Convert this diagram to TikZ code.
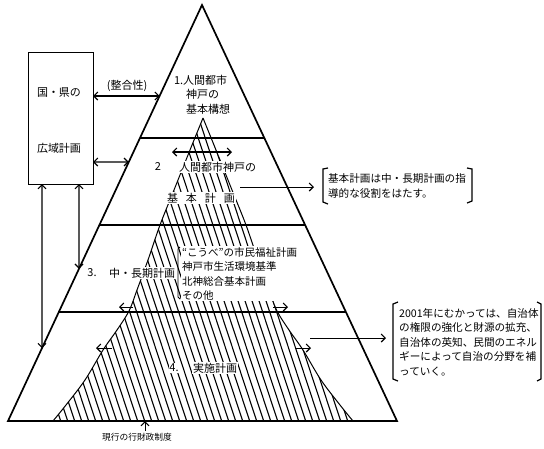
\documentclass[tikz,border=0pt]{standalone}
\usepackage{fontspec}
\newfontfamily\jpfont{Noto Sans CJK JP}
\usetikzlibrary{arrows.meta,calc}
\newcommand\hatchshape{plot[smooth,tension=0.55] coordinates {(53,421) (66,405) (85,380) (103,350) (117,330) (129,311) (137,290) (148,260) (160,225) (174,190) (190,150) (203,118)} -- plot[smooth,tension=0.55] coordinates {(203,118) (216,150) (232,190) (246,225) (258,260) (269,290) (277,311) (289,330) (303,350) (321,380) (340,405) (353,421)} -- cycle}
\begin{document}
\begin{tikzpicture}[x=1pt,y=-1pt,
  mybarb/.tip={Straight Barb[length=4pt,width=8pt,line width=1.1pt]},
  outline/.style={line width=1.7pt,line join=miter},
  bandline/.style={line width=1.4pt},
  hatchline/.style={line width=1.1pt},
  both/.style={line width=1.1pt,{mybarb}-{mybarb}},
  onearrow/.style={line width=1pt,-{mybarb}},
  lbl/.style={font=\jpfont\fontsize{11}{13}\selectfont,inner sep=0.8pt,fill=white},
  boxtxt/.style={font=\jpfont\fontsize{11}{13}\selectfont,inner sep=0pt},
  note/.style={font=\jpfont\fontsize{10.6}{14.5}\selectfont,inner sep=0pt,align=left},
  brk/.style={line width=1.2pt},
]
\useasboundingbox (0,0) rectangle (544,448);
\fill[white] (0,0) rectangle (544,448);

% triangle corners
\coordinate (A) at (202,5);
\coordinate (BL) at (8,421);
\coordinate (BR) at (397,421);

% hatched region
\begin{scope}
  \clip \hatchshape;
  \foreach \hx in {-56,-49,...,360} \draw[hatchline] (\hx,110) -- ++(104,315);
\end{scope}
\draw[line width=1pt] plot[smooth,tension=0.55] coordinates {(53,421) (66,405) (85,380) (103,350) (117,330) (129,311) (137,290) (148,260) (160,225) (174,190) (190,150) (203,118)};
\draw[line width=1pt] plot[smooth,tension=0.55] coordinates {(203,118) (216,150) (232,190) (246,225) (258,260) (269,290) (277,311) (289,330) (303,350) (321,380) (340,405) (353,421)};

% triangle
\draw[outline] (BL) -- (A) -- (BR) -- cycle;

% band lines
\coordinate (L1) at ($(A)!{133/416}!(BL)$);
\coordinate (R1) at ($(A)!{133/416}!(BR)$);
\coordinate (L2) at ($(A)!{220/416}!(BL)$);
\coordinate (R2) at ($(A)!{220/416}!(BR)$);
\coordinate (L3) at ($(A)!{307/416}!(BL)$);
\coordinate (R3) at ($(A)!{307/416}!(BR)$);
\draw[bandline] (L1) -- (R1);
\draw[bandline] (L2) -- (R2);
\draw[bandline] (L3) -- (R3);

% box
\node[draw,line width=1.4pt,minimum width=65pt,minimum height=132pt,inner sep=0pt,anchor=north west] (box) at (28,52) {};
\node[boxtxt] (box1) at (59,93) {国・県の};
\node[boxtxt] (box2) at (59,148) {広域計画};

% connectors box - triangle
\coordinate (b1) at (93,96);
\coordinate (e1) at ($(A)!{91/416}!(BL)$);
\coordinate (b2) at (93,162);
\coordinate (e2) at ($(A)!{157/416}!(BL)$);
\coordinate (b3) at (79,184);
\coordinate (e3) at ($(A)!{123/194}!(BL)$);
\coordinate (b4) at (42,184);
\coordinate (e4) at ($(A)!{160/194}!(BL)$);
\draw[both] (b1) -- (e1);
\draw[both] (b2) -- (e2);
\draw[both] (b3) -- (e3);
\draw[both] (b4) -- (e4);
\node[boxtxt] (seigo) at (127,86) {(整合性)};

% level labels
\node[lbl,anchor=west] (l1a) at (173,80) {1.人間都市};
\node[lbl,anchor=west] (l1b) at (185,94) {神戸の};
\node[lbl,anchor=west] (l1c) at (185,109) {基本構想};

\coordinate (a2l) at (172,152);
\coordinate (a2r) at (232,152);
\draw[both] (a2l) -- (a2r);
\node[lbl] (l2n) at (158,167) {2};
\node[lbl,anchor=west] (l2a) at (178,167) {人間都市神戸の};
\node[lbl] (l2b) at (201,198) {基\hspace{8pt}本\hspace{8pt}計\hspace{8pt}画};

\node[lbl] (l3n) at (92,273) {3.};
\node[lbl,anchor=west] (l3a) at (108,273) {中・長期計画};
\node[note,fill=white,inner sep=1pt,anchor=north west,font=\jpfont\fontsize{10.5}{14.5}\selectfont] (list) at (181,246) {“こうべ”の市民福祉計画\\神戸市生活環境基準\\北神総合基本計画\\その他};
\draw[line width=0.9pt] (180,247) -- (178,249) -- (178,297) -- (180,299);

\node[lbl] (l4n) at (174,368) {4.};
\node[lbl,anchor=west] (l4a) at (192,368) {実施計画};

% outward arrows
\coordinate (o3la) at (133,307); \coordinate (o3lb) at (119,307);
\coordinate (o3ra) at (273,307); \coordinate (o3rb) at (288,307);
\coordinate (o4la) at (112,348); \coordinate (o4lb) at (96,348);
\coordinate (o4ra) at (296,348); \coordinate (o4rb) at (311,348);
\draw[onearrow] (o3la) -- (o3lb);
\draw[onearrow] (o3ra) -- (o3rb);
\draw[onearrow] (o4la) -- (o4lb);
\draw[onearrow] (o4ra) -- (o4rb);

% note 1
\node[note] (n1) at (397,186) {基本計画は中・長期計画の指\\導的な役割をはたす。};
\coordinate (n1a) at (240,187);
\coordinate (n1b) at (314,187);
\draw[onearrow] (n1a) -- (n1b);
\draw[brk] (328,168) -- (323,169) -- (323,202) -- (328,204);
\draw[brk] (467,168) -- (472,169) -- (472,201) -- (467,203);

% note 2
\node[note,anchor=north west] (n2) at (399,308) {2001年にむかっては、自治体\\の権限の強化と財源の拡充、\\自治体の英知、民間のエネル\\ギーによって自治の分野を補\\っていく。};
\coordinate (n2a) at (310,338);
\coordinate (n2b) at (386,338);
\draw[onearrow] (n2a) -- (n2b);
\draw[brk] (398,302) -- (393,304) -- (393,379) -- (398,381);
\draw[brk] (537,302) -- (541,304) -- (541,379) -- (537,381);

% current system
\node[font=\jpfont\fontsize{8.7}{10}\selectfont,inner sep=0pt,anchor=west] (gen) at (102,437) {現行の行財政制度};
\coordinate (g0) at (145,431);
\coordinate (g1) at (145,421);
\draw[onearrow] (g0) -- (g1);
\end{tikzpicture}
\end{document}
